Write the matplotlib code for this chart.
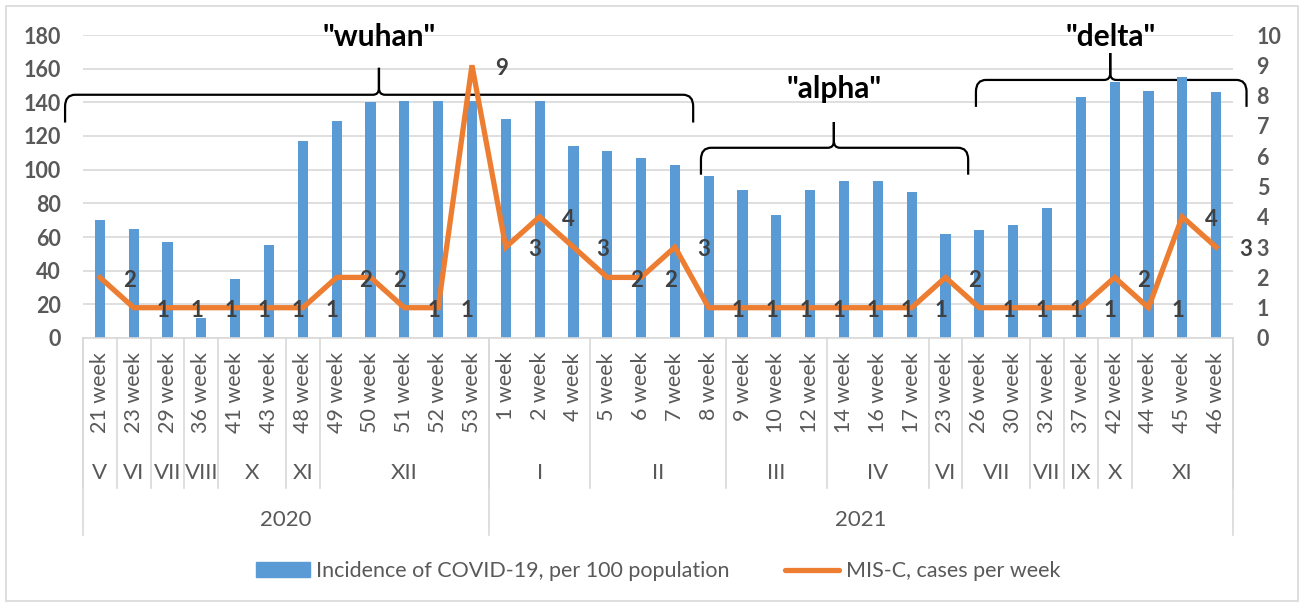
import numpy as np
import matplotlib
matplotlib.use('Agg')
import matplotlib.pyplot as plt
from matplotlib.path import Path
from matplotlib.patches import PathPatch, Rectangle, Patch
from matplotlib.lines import Line2D

plt.rcParams['font.family'] = ['Lato', 'DejaVu Sans']

# data
weeks = [21, 23, 29, 36, 41, 43, 48, 49, 50, 51, 52, 53,
         1, 2, 4, 5, 6, 7, 8, 9, 10, 12, 14, 16, 17, 23, 26, 30, 32, 37, 42, 44, 45, 46]
week_labels = [f'{w} week' for w in weeks]
incidence = [70, 65, 57, 12, 35, 55, 117, 129, 140, 141, 141, 141,
             130, 141, 114, 111, 107, 103, 96, 88, 73, 88, 93, 93, 87, 62, 64, 67, 77, 143, 152, 147, 155, 146]
misc = [2, 1, 1, 1, 1, 1, 1, 2, 2, 1, 1, 9,
        3, 4, 3, 2, 2, 3, 1, 1, 1, 1, 1, 1, 1, 2, 1, 1, 1, 1, 2, 1, 4, 3]
months = ['V', 'VI', 'VII', 'VIII', 'X', 'XI', 'XII',
          'I', 'II', 'III', 'IV', 'VI', 'VII', 'VII', 'IX', 'X', 'XI']
month_sizes = [1, 1, 1, 1, 2, 1, 5, 3, 4, 3, 3, 1, 2, 1, 1, 1, 3]
years = ['2020', '2021']
year_sizes = [12, 22]
variants = ['"wuhan"', '"alpha"', '"delta"']

BLUE = '#5b9bd5'
ORANGE = '#ed7d31'
GRID = '#d9d9d9'
TXT = '#595959'

fig = plt.figure(figsize=(13.01, 6.05), dpi=100)
ax = fig.add_axes([83/1301, 1 - 338/605, 1150/1301, 303/605])
ax2 = ax.twinx()

x = np.arange(len(weeks))
ax.bar(x, incidence, width=0.3, color=BLUE, zorder=2)
ax.set_xlim(-0.5, len(weeks) - 0.5)
ax.set_ylim(0, 180)
ax.set_yticks(range(0, 181, 20))
ax.yaxis.grid(True, color=GRID, lw=1.2, zorder=0)
ax.set_axisbelow(True)

ax2.plot(x, misc, color=ORANGE, lw=3.8, solid_joinstyle='miter', zorder=3)
ax2.set_ylim(0, 10)
ax2.set_yticks(range(0, 11))
for xi, v in zip(x, misc):
    ax2.annotate(str(v), (xi, v), xytext=(21, -2), textcoords='offset points',
                 ha='center', va='center', fontsize=16, fontweight='bold', color='#404040')

for a in (ax, ax2):
    for s in a.spines.values():
        s.set_visible(False)
ax.spines['bottom'].set_visible(True)
ax.spines['bottom'].set_color(GRID)
ax.spines['bottom'].set_linewidth(1.2)

ax.tick_params(axis='y', length=0, pad=16, labelsize=15.5, labelcolor=TXT)
ax2.tick_params(axis='y', length=0, pad=17, labelsize=15.5, labelcolor=TXT)
for lab in ax.get_yticklabels() + ax2.get_yticklabels():
    lab.set_fontweight('bold')

ax.set_xticks(x, week_labels, rotation=90)
ax.tick_params(axis='x', length=0, pad=10, labelsize=15.5, labelcolor=TXT)

# multi-level category axis
trans = ax.get_xaxis_transform()
pos = -0.5
ax.plot([pos, pos], [0, -0.495], transform=trans, color=GRID, lw=1.2, clip_on=False)
for name, n in zip(months, month_sizes):
    ax.text(pos + n / 2, -0.446, name, transform=trans, ha='center', va='center',
            fontsize=16, color=TXT)
    pos += n
    ax.plot([pos, pos], [0, -0.495], transform=trans, color=GRID, lw=1.2, clip_on=False)
pos = -0.5
ax.plot([pos, pos], [0, -0.65], transform=trans, color=GRID, lw=1.2, clip_on=False)
for name, n in zip(years, year_sizes):
    ax.text(pos + n / 2, -0.60, name, transform=trans, ha='center', va='center',
            fontsize=16, color=TXT)
    pos += n
    ax.plot([pos, pos], [0, -0.65], transform=trans, color=GRID, lw=1.2, clip_on=False)


# curly braces over the variant periods
def brace(ax, x0, x1, xm, y_tip, y_mid, y_top, label, y_text):
    rx, dy = 0.3, 7
    cx, cy = 0.18, 4
    verts = [(x0, y_tip), (x0, y_mid - dy), (x0, y_mid), (x0 + rx, y_mid),
             (xm - cx, y_mid), (xm, y_mid), (xm, y_mid + cy), (xm, y_top),
             (xm, y_mid + cy), (xm, y_mid), (xm + cx, y_mid),
             (x1 - rx, y_mid), (x1, y_mid), (x1, y_mid - dy), (x1, y_tip)]
    codes = [Path.MOVETO, Path.LINETO, Path.CURVE3, Path.CURVE3,
             Path.LINETO, Path.CURVE3, Path.CURVE3, Path.LINETO,
             Path.LINETO, Path.CURVE3, Path.CURVE3,
             Path.LINETO, Path.CURVE3, Path.CURVE3, Path.LINETO]
    ax.add_patch(PathPatch(Path(verts, codes), fill=False, lw=1.6, ec='black',
                           clip_on=False, zorder=1.5))
    ax.text(xm, y_text, label, ha='center', va='center', fontsize=21.5,
            fontweight='bold', color='black', clip_on=False)


brace(ax, -1.03, 17.54, 8.25, 128, 144.5, 160.5, variants[0], 179)
brace(ax, 17.77, 25.67, 21.7, 97, 113, 128.3, variants[1], 148)
brace(ax, 25.9, 33.9, 29.87, 137.3, 153.3, 169.3, variants[2], 179)

handles = [Patch(color=BLUE), Line2D([], [], color=ORANGE, lw=3.8, solid_capstyle='round')]
fig.legend(handles, ['Incidence of COVID-19, per 100 population', 'MIS-C, cases per week'],
           loc='center', bbox_to_anchor=(658/1301, 34/605), ncol=2, frameon=False,
           fontsize=15.5, labelcolor=TXT, handlelength=2.5, handleheight=0.65,
           handletextpad=0.3, columnspacing=2.6)

fig.add_artist(Rectangle((6/1301, 4/605), 1292/1301, 595/605, transform=fig.transFigure,
                         fill=False, ec=GRID, lw=1.2))

fig.savefig('out.png', dpi=100)
